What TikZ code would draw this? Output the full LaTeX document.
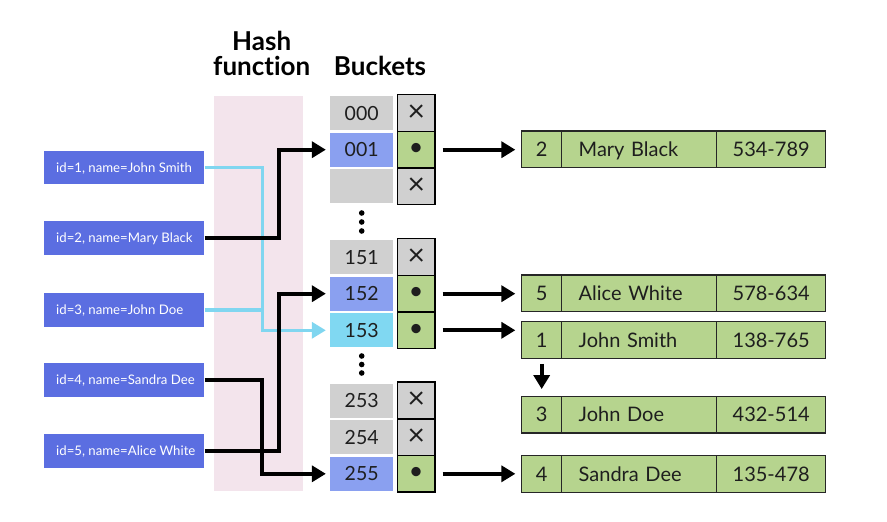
\documentclass[tikz,border=0pt]{standalone}
\usepackage{fontspec}
\setmainfont{Lato}[Ligatures={NoCommon,NoRare,NoContextual}]
\usetikzlibrary{arrows.meta,calc}
\definecolor{inblue}{RGB}{91,110,225}
\definecolor{keyblue}{RGB}{138,160,240}
\definecolor{cyanline}{RGB}{128,214,240}
\definecolor{cyancell}{RGB}{128,216,242}
\definecolor{cellgray}{RGB}{208,208,208}
\definecolor{recgreen}{RGB}{182,212,142}
\definecolor{bandpink}{RGB}{243,228,236}
\definecolor{txt}{RGB}{30,30,30}
\newcommand{\inlabel}[1]{\makebox[136pt][l]{#1}}
\begin{document}
\begin{tikzpicture}[x=1pt,y=-1pt,
  inbox/.style={fill=inblue, text=white, minimum width=160.3pt, inner sep=0pt,
    minimum height=33.5pt, text height=9.8pt, text depth=0pt,
    font=\fontsize{13.2}{15}\selectfont},
  keycell/.style={minimum width=63.3pt, minimum height=34pt, inner sep=0pt, text=txt,
    text height=14pt, text depth=0pt, font=\fontsize{19.5}{21}\selectfont},
  ptrcell/.style={draw=black, line width=1.5pt, minimum width=37.7pt, minimum height=36.6pt,
    inner sep=0pt, text=txt},
  xcell/.style={ptrcell, fill=cellgray, font=\fontsize{30}{30}\selectfont},
  dcell/.style={ptrcell, fill=recgreen, font=\fontsize{25}{25}\selectfont},
  rec/.style={draw=black!85, line width=1.3pt, fill=recgreen, minimum height=36.6pt, inner sep=0pt,
    text=txt, text height=14.4pt, text depth=0pt, font=\fontsize{20}{22}\selectfont},
  recname/.style={rec, text width=121pt, inner xsep=17pt, align=left},
  title/.style={anchor=base, text=black, font=\fontsize{26}{27}\bfseries},
  blkarr/.style={line width=4pt, black, -{Triangle[length=14pt,width=16pt]}},
  cyanarr/.style={line width=3.3pt, cyanline, -{Triangle[length=14pt,width=16pt]}},
  cyanln/.style={line width=3.3pt, cyanline}
]
\useasboundingbox (0,0) rectangle (887,522);

% hash function band
\fill[bandpink] (214,96) rectangle (302.7,490.7);

% titles
\node[title] (t1) at (261.7,50.7) {Hash};
\node[title] (t2) at (261.7,75) {function};
\node[title] (t3) at (380,75) {Buckets};

% input boxes
\node[inbox] (in1) at (124.2,167.5) {\inlabel{id=1, name=John Smith}};
\node[inbox] (in2) at (124.2,238) {\inlabel{id=2, name=Mary Black}};
\node[inbox] (in3) at (124.2,310) {\inlabel{id=3, name=John Doe}};
\node[inbox] (in4) at (124.2,380) {\inlabel{id=4, name=Sandra Dee}};
\node[inbox] (in5) at (124.2,451) {\inlabel{id=5, name=Alice White}};

% bucket keys
\node[keycell, fill=cellgray] (k000) at (361.7,113) {000};
\node[keycell, fill=keyblue] (k001) at (361.7,149.7) {001};
\node[keycell, fill=cellgray] (k002) at (361.7,186.3) {};
\node[keycell, fill=cellgray] (k151) at (361.7,257) {151};
\node[keycell, fill=keyblue] (k152) at (361.7,293.7) {152};
\node[keycell, fill=cyancell] (k153) at (361.7,330.3) {153};
\node[keycell, fill=cellgray] (k253) at (361.7,400.5) {253};
\node[keycell, fill=cellgray] (k254) at (361.7,437.2) {254};
\node[keycell, fill=keyblue] (k255) at (361.7,473.8) {255};

% pointer cells
\node[xcell] (p000) at (416.2,113) {×};
\node[dcell] (p001) at (416.2,149.7) {•};
\node[xcell] (p002) at (416.2,186.3) {×};
\node[xcell] (p151) at (416.2,257) {×};
\node[dcell] (p152) at (416.2,293.7) {•};
\node[dcell] (p153) at (416.2,330.3) {•};
\node[xcell] (p253) at (416.2,400.5) {×};
\node[xcell] (p254) at (416.2,437.2) {×};
\node[dcell] (p255) at (416.2,473.8) {•};

% vertical ellipses
\fill[black] (361.7,213) circle (2.8pt) (361.7,222) circle (2.8pt) (361.7,231) circle (2.8pt);
\fill[black] (361.7,356) circle (2.8pt) (361.7,364.5) circle (2.8pt) (361.7,373) circle (2.8pt);

% records
\node[rec, minimum width=40pt] (r1a) at (541.7,149.3) {2};
\node[recname] (r1b) at (639.2,149.3) {Mary Black};
\node[rec, minimum width=109pt] (r1c) at (771.2,149.3) {534-789};

\node[rec, minimum width=40pt] (r2a) at (541.7,293.3) {5};
\node[recname] (r2b) at (639.2,293.3) {Alice White};
\node[rec, minimum width=109pt] (r2c) at (771.2,293.3) {578-634};

\node[rec, minimum width=40pt] (r3a) at (541.7,340) {1};
\node[recname] (r3b) at (639.2,340) {John Smith};
\node[rec, minimum width=109pt] (r3c) at (771.2,340) {138-765};

\node[rec, minimum width=40pt] (r4a) at (541.7,414.7) {3};
\node[recname] (r4b) at (639.2,414.7) {John Doe};
\node[rec, minimum width=109pt] (r4c) at (771.2,414.7) {432-514};

\node[rec, minimum width=40pt] (r5a) at (541.7,474) {4};
\node[recname] (r5b) at (639.2,474) {Sandra Dee};
\node[rec, minimum width=109pt] (r5c) at (771.2,474) {135-478};

% routing columns
\coordinate (v1) at (262.3,0);
\coordinate (v2) at (279.3,0);

% cyan connectors
\draw[cyanarr, shorten >=4pt] (in1.east) -| (v1 |- k153.west) -- (k153.west);
\draw[cyanln] (in3.east) -- (v1 |- in3.east);

% black connectors
\draw[blkarr, shorten >=4pt] (in2.east) -| (v2 |- k001.west) -- (k001.west);
\draw[blkarr, shorten >=4pt] (in5.east) -| (v2 |- k152.west) -- (k152.west);
\draw[blkarr, shorten >=4pt] (in4.east) -| (v1 |- k255.west) -- (k255.west);

% pointer arrows
\draw[blkarr, shorten <=6.7pt, shorten >=5.7pt] (p001.east) -- (p001.east -| r1a.west);
\draw[blkarr, shorten <=6.7pt, shorten >=5.7pt] (p152.east) -- (p152.east -| r2a.west);
\draw[blkarr, shorten <=6.7pt, shorten >=5.7pt] (p153.east) -- (p153.east -| r3a.west);
\draw[blkarr, shorten <=6.7pt, shorten >=5.7pt] (p255.east) -- (p255.east -| r5a.west);

% chain arrow
\draw[blkarr, shorten <=5pt, shorten >=6.7pt] (r3a.south) -- (r4a.north);
\end{tikzpicture}
\end{document}
